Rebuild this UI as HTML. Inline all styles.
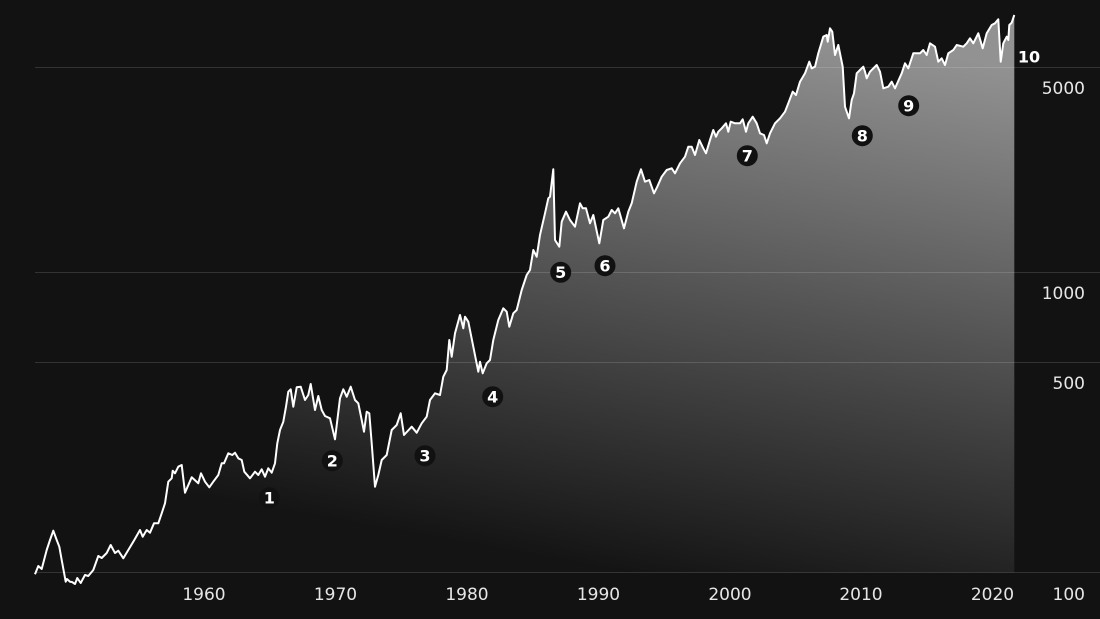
<!DOCTYPE html>
<html>
<head>
<meta charset="utf-8">
<style>
html,body{margin:0;padding:0;background:#121212;}
svg{display:block;}
text{font-family:"DejaVu Sans","Liberation Sans",sans-serif;}
</style>
</head>
<body>
<svg width="1100" height="619" viewBox="0 0 1100 619" xmlns="http://www.w3.org/2000/svg">
<defs>
<linearGradient id="g" gradientUnits="userSpaceOnUse" x1="720" y1="15" x2="620" y2="572">
<stop offset="0" stop-color="#929292"/>
<stop offset="0.5" stop-color="#525252"/>
<stop offset="1" stop-color="#141414"/>
</linearGradient>
</defs>
<rect width="1100" height="619" fill="#121212"/>
<path fill="url(#g)" d="M35,574.3 L38.3,566 41.7,569 46.7,550 50,540 53.3,530.7 56.7,540 59.3,546.7 61.7,560 65.7,581.7 67,579 70,581.7 72,582 75,584 77.3,578 80.7,583 85,575 88.3,576 93.3,570 98.3,556 101.7,558 106.7,553 110.7,545 115,553 118.3,550.7 123.3,558.3 128.3,550 133.3,541.7 140,530 142.7,536.7 146.7,530 150,532.7 154,523.3 158.3,523.3 161.7,513.3 165,503.3 168.3,481.7 171.7,478.3 172.7,470.7 175,473.3 178.3,466.7 181.7,465 185,492.7 191.7,477.3 198.3,483.3 201,473.3 205,481.7 209.3,487.3 213.3,481.7 218.3,475 221.7,463.3 224,463.3 228.3,453.3 232.3,455 235,452.7 238.3,458.3 241.7,460 244.3,471.7 250,478.3 255,471.7 258.3,475 261.7,469.3 265,476.7 268.3,468.3 271.7,472.7 275,463.3 277.3,443.3 280,430 283.3,421.7 286,406.7 288.3,391.7 290.7,389.3 293.3,406.7 296.7,387.3 300.7,386.7 305,400 308.3,395 310.7,384 315,410 318.3,396 321.7,410 325,416 330,418.3 335,439.3 340,398.3 343.3,389.3 346.7,396.7 350.7,386.7 355,400 358.3,403.3 361.7,420 364,431.7 366.7,411.7 369.3,413.3 371.7,443.3 375,486.7 378.3,475 381.7,460 386.7,455 391.7,430 396.7,425 400.7,413.3 404,435 411.7,426.7 416.7,432.7 421.7,423.3 426.7,416.7 430,400 435,393.3 440,395 443.3,376.7 446.7,370 449.3,340 451.7,356.7 455,333.3 460,315 463.3,328.3 465,316.7 468.3,321.7 473.3,346.7 478.3,371.7 480,361.7 482.7,373.3 486.7,363.3 490,360 493.3,340 498.3,320 503.3,308.3 506.7,311.7 509.3,326.7 513.3,313.3 516.7,310 521.7,290 526.7,275 530,270 533.3,250 536.7,256.7 540,235 545,213.3 548.3,198.3 550,196.7 553.3,169.3 555,240 559.3,246.7 561.7,221.7 566,211.7 570,220 575,226.7 580,203.3 582.7,208.3 586,208.3 590,223.3 593.3,215 599.3,243.3 603.3,220 608.3,216.7 611.7,210 615,213.3 618.3,208.3 624,228.3 628.3,211.7 631.7,203.3 636.7,181.7 641,169.3 645,181.7 649.3,180 654,193.3 657.3,186.7 661.7,176.7 666.7,170 671.7,168.3 675,173.3 680,163.3 685,156.7 688.3,146.7 691.7,146.7 695,155 699.3,140 703.3,148.3 706,153.3 710,140 713.3,130 716,136.7 718.3,131.7 721.7,128.3 726,123.3 728.3,131.7 730.7,121.7 735,123.3 740,123.3 742.7,119.3 746,131.7 748.3,123.3 752.7,116.7 756.7,123.3 760,133.3 764,135 766.7,143.3 770,133.3 775,123.3 780,118.3 785,111.7 788.3,103.3 792.7,91.7 796,95 800,81.7 805,73.3 809.3,61.7 811.7,68.3 815,66.7 818.3,53.3 823.3,36.7 826.7,35 827.7,41.7 830,28.3 832.3,31.7 835,55 838.3,45 842.7,66.7 845,106.7 849,118.3 851.7,100 854,93.3 856.7,73.3 860,70 863.3,66.7 865,71.7 866.7,78.3 870,71.7 876.7,65 880,71.7 883.3,88.3 888.3,86.7 891.7,81.7 895,88.3 901.7,73.3 905,63.3 908.3,68.3 913.3,53.3 920,53.3 923.3,50 926.7,55 930,43.3 935,46.7 938.3,61.7 941.7,58.3 945,65 948.3,53.3 953.3,50 956.7,45 963.3,46.7 966.7,43.3 970,38.3 973.3,43.3 978.3,33.3 982.7,48.3 986.7,33.3 991.7,25 995,23.3 998.3,19.3 1000.7,61.7 1003.3,43.3 1006.7,36.7 1008.3,40 1009.3,25 1011.7,22.7 1014.3,15 L1014.3,572.5 L35,572.5 Z"/>
<g stroke="rgba(255,255,255,0.14)" stroke-width="1">
<line x1="35" y1="67.5" x2="1100" y2="67.5"/>
<line x1="35" y1="272.5" x2="1100" y2="272.5"/>
<line x1="35" y1="362.5" x2="1100" y2="362.5"/>
<line x1="35" y1="572.5" x2="1100" y2="572.5"/>
</g>
<polyline fill="none" stroke="#ffffff" stroke-width="2" stroke-linejoin="round" points="35,574.3 38.3,566 41.7,569 46.7,550 50,540 53.3,530.7 56.7,540 59.3,546.7 61.7,560 65.7,581.7 67,579 70,581.7 72,582 75,584 77.3,578 80.7,583 85,575 88.3,576 93.3,570 98.3,556 101.7,558 106.7,553 110.7,545 115,553 118.3,550.7 123.3,558.3 128.3,550 133.3,541.7 140,530 142.7,536.7 146.7,530 150,532.7 154,523.3 158.3,523.3 161.7,513.3 165,503.3 168.3,481.7 171.7,478.3 172.7,470.7 175,473.3 178.3,466.7 181.7,465 185,492.7 191.7,477.3 198.3,483.3 201,473.3 205,481.7 209.3,487.3 213.3,481.7 218.3,475 221.7,463.3 224,463.3 228.3,453.3 232.3,455 235,452.7 238.3,458.3 241.7,460 244.3,471.7 250,478.3 255,471.7 258.3,475 261.7,469.3 265,476.7 268.3,468.3 271.7,472.7 275,463.3 277.3,443.3 280,430 283.3,421.7 286,406.7 288.3,391.7 290.7,389.3 293.3,406.7 296.7,387.3 300.7,386.7 305,400 308.3,395 310.7,384 315,410 318.3,396 321.7,410 325,416 330,418.3 335,439.3 340,398.3 343.3,389.3 346.7,396.7 350.7,386.7 355,400 358.3,403.3 361.7,420 364,431.7 366.7,411.7 369.3,413.3 371.7,443.3 375,486.7 378.3,475 381.7,460 386.7,455 391.7,430 396.7,425 400.7,413.3 404,435 411.7,426.7 416.7,432.7 421.7,423.3 426.7,416.7 430,400 435,393.3 440,395 443.3,376.7 446.7,370 449.3,340 451.7,356.7 455,333.3 460,315 463.3,328.3 465,316.7 468.3,321.7 473.3,346.7 478.3,371.7 480,361.7 482.7,373.3 486.7,363.3 490,360 493.3,340 498.3,320 503.3,308.3 506.7,311.7 509.3,326.7 513.3,313.3 516.7,310 521.7,290 526.7,275 530,270 533.3,250 536.7,256.7 540,235 545,213.3 548.3,198.3 550,196.7 553.3,169.3 555,240 559.3,246.7 561.7,221.7 566,211.7 570,220 575,226.7 580,203.3 582.7,208.3 586,208.3 590,223.3 593.3,215 599.3,243.3 603.3,220 608.3,216.7 611.7,210 615,213.3 618.3,208.3 624,228.3 628.3,211.7 631.7,203.3 636.7,181.7 641,169.3 645,181.7 649.3,180 654,193.3 657.3,186.7 661.7,176.7 666.7,170 671.7,168.3 675,173.3 680,163.3 685,156.7 688.3,146.7 691.7,146.7 695,155 699.3,140 703.3,148.3 706,153.3 710,140 713.3,130 716,136.7 718.3,131.7 721.7,128.3 726,123.3 728.3,131.7 730.7,121.7 735,123.3 740,123.3 742.7,119.3 746,131.7 748.3,123.3 752.7,116.7 756.7,123.3 760,133.3 764,135 766.7,143.3 770,133.3 775,123.3 780,118.3 785,111.7 788.3,103.3 792.7,91.7 796,95 800,81.7 805,73.3 809.3,61.7 811.7,68.3 815,66.7 818.3,53.3 823.3,36.7 826.7,35 827.7,41.7 830,28.3 832.3,31.7 835,55 838.3,45 842.7,66.7 845,106.7 849,118.3 851.7,100 854,93.3 856.7,73.3 860,70 863.3,66.7 865,71.7 866.7,78.3 870,71.7 876.7,65 880,71.7 883.3,88.3 888.3,86.7 891.7,81.7 895,88.3 901.7,73.3 905,63.3 908.3,68.3 913.3,53.3 920,53.3 923.3,50 926.7,55 930,43.3 935,46.7 938.3,61.7 941.7,58.3 945,65 948.3,53.3 953.3,50 956.7,45 963.3,46.7 966.7,43.3 970,38.3 973.3,43.3 978.3,33.3 982.7,48.3 986.7,33.3 991.7,25 995,23.3 998.3,19.3 1000.7,61.7 1003.3,43.3 1006.7,36.7 1008.3,40 1009.3,25 1011.7,22.7 1014.3,15"/>
<g fill="#111111">
<circle cx="269.3" cy="497.7" r="10.5"/>
<circle cx="332.3" cy="460.7" r="10.5"/>
<circle cx="425" cy="455.7" r="10.5"/>
<circle cx="492.7" cy="396.7" r="10.5"/>
<circle cx="560.7" cy="272.3" r="10.5"/>
<circle cx="605" cy="265.7" r="10.5"/>
<circle cx="747.3" cy="155.7" r="10.5"/>
<circle cx="862.3" cy="135.7" r="10.5"/>
<circle cx="908.7" cy="105.7" r="10.5"/>
</g>
<g fill="#ffffff" font-size="16" font-weight="bold" text-anchor="middle">
<text x="269.3" y="503.5">1</text>
<text x="332.3" y="466.5">2</text>
<text x="425" y="461.5">3</text>
<text x="492.7" y="402.5">4</text>
<text x="560.7" y="278.1">5</text>
<text x="605" y="271.5">6</text>
<text x="747.3" y="161.5">7</text>
<text x="862.3" y="141.5">8</text>
<text x="908.7" y="111.5">9</text>
<text x="1029" y="62.3">10</text>
</g>
<g fill="#e6e6e6" font-size="17" text-anchor="end">
<text x="1085" y="94">5000</text>
<text x="1085" y="299">1000</text>
<text x="1085" y="389">500</text>
<text x="1085" y="600">100</text>
</g>
<g fill="#e6e6e6" font-size="17" text-anchor="middle">
<text x="204" y="600">1960</text>
<text x="335.5" y="600">1970</text>
<text x="467" y="600">1980</text>
<text x="598.5" y="600">1990</text>
<text x="730" y="600">2000</text>
<text x="861" y="600">2010</text>
<text x="992.5" y="600">2020</text>
</g>
</svg>
</body>
</html>
